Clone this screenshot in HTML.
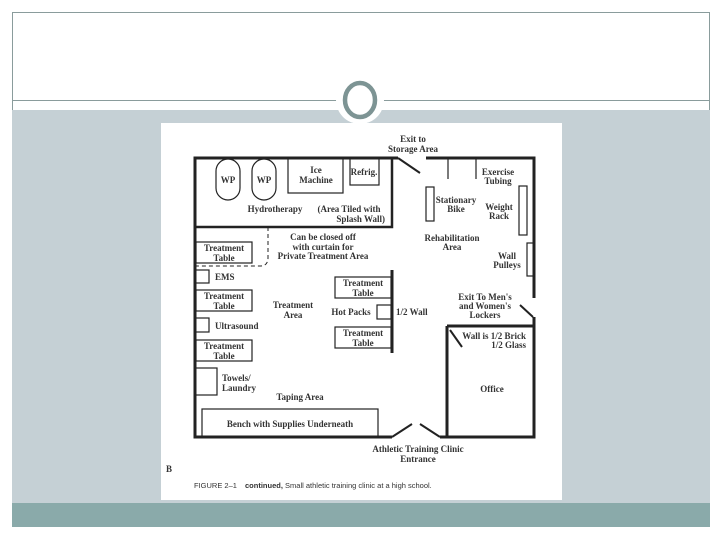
<!DOCTYPE html>
<html><head><style>
body{margin:0;width:720px;height:540px;background:#fff;position:relative;overflow:hidden}
</style></head><body>
<svg width="720" height="540" viewBox="0 0 720 540" style="position:absolute;left:0;top:0">
<rect x="0" y="0" width="720" height="540" fill="#fff"/>
<line x1="12" y1="12.5" x2="710" y2="12.5" stroke="#8a9c9c" stroke-width="1"/>
<line x1="12.5" y1="12" x2="12.5" y2="110" stroke="#8a9c9c" stroke-width="1"/>
<line x1="709.5" y1="12" x2="709.5" y2="110" stroke="#8a9c9c" stroke-width="1"/>
<rect x="12" y="110" width="698" height="393" fill="#c5d0d5"/>
<rect x="12" y="503" width="698" height="24" fill="#8aaaaa"/>
<line x1="12" y1="100.5" x2="710" y2="100.5" stroke="#8a9c9c" stroke-width="1"/>
<circle cx="360" cy="100" r="24" fill="#fff"/>
<ellipse cx="360" cy="100" rx="15" ry="17" fill="none" stroke="#7d9494" stroke-width="4.5"/>
<rect x="161" y="123" width="401" height="377" fill="#fff"/>
<g stroke="#222" fill="none">
<path d="M398 158H195V437H392M426 158H534V298M534 317V437H440M447 326H534M447 326V437" stroke-width="3"/>
<path d="M398 158L420 173M392 437L412 424M420 424L440 437M520 305L533 317M450 330L462 347" stroke-width="2"/>
<path d="M195 227H392V158" stroke-width="2.5"/>
<path d="M392 270V353" stroke-width="3"/>
<path d="M448 158V179M476 158V179" stroke-width="1.2"/>
<path d="M268 227V258Q268 266 260 266H195" stroke-width="1" stroke-dasharray="4,3"/>
<g stroke-width="1.2">
<rect x="216" y="159" width="24" height="41" rx="12"/>
<rect x="252" y="159" width="24" height="41" rx="12"/>
<rect x="288" y="158" width="55" height="35"/>
<rect x="350" y="158" width="29" height="27"/>
<rect x="196" y="242" width="56" height="21"/>
<rect x="195" y="270" width="14" height="13"/>
<rect x="196" y="290" width="56" height="21"/>
<rect x="195" y="318" width="14" height="14"/>
<rect x="196" y="340" width="56" height="21"/>
<rect x="195" y="368" width="22" height="27"/>
<rect x="202" y="409" width="176" height="28"/>
<rect x="335" y="277" width="56" height="21"/>
<rect x="377" y="305" width="14" height="14"/>
<rect x="335" y="327" width="56" height="21"/>
<rect x="426" y="187" width="8" height="34"/>
<rect x="519" y="186" width="8" height="49"/>
<rect x="527" y="243" width="7" height="33"/>
</g>
</g>
<g font-family="Liberation Serif, serif" font-weight="bold" font-size="9" fill="#333" text-anchor="middle">
<text x="413" y="142">Exit to</text><text x="413" y="152">Storage Area</text>
<text x="228" y="183">WP</text><text x="264" y="183">WP</text>
<text x="316" y="173">Ice</text><text x="316" y="183">Machine</text>
<text x="364" y="175">Refrig.</text>
<text x="275" y="212">Hydrotherapy</text>
<text x="349" y="212">(Area Tiled with</text>
<text x="385" y="222" text-anchor="end">Splash Wall)</text>
<text x="323" y="240">Can be closed off</text><text x="323" y="250">with curtain for</text><text x="323" y="259">Private Treatment Area</text>
<text x="224" y="251">Treatment</text><text x="224" y="261">Table</text>
<text x="215" y="280" text-anchor="start">EMS</text>
<text x="224" y="299">Treatment</text><text x="224" y="309">Table</text>
<text x="215" y="329" text-anchor="start">Ultrasound</text>
<text x="224" y="349">Treatment</text><text x="224" y="359">Table</text>
<text x="222" y="381" text-anchor="start">Towels/</text><text x="222" y="391" text-anchor="start">Laundry</text>
<text x="293" y="308">Treatment</text><text x="293" y="318">Area</text>
<text x="300" y="400">Taping Area</text>
<text x="290" y="427">Bench with Supplies Underneath</text>
<text x="363" y="286">Treatment</text><text x="363" y="296">Table</text>
<text x="351" y="315">Hot Packs</text>
<text x="396" y="315" text-anchor="start">1/2 Wall</text>
<text x="363" y="336">Treatment</text><text x="363" y="346">Table</text>
<text x="498" y="175">Exercise</text><text x="498" y="184">Tubing</text>
<text x="456" y="203">Stationary</text><text x="456" y="212">Bike</text>
<text x="499" y="210">Weight</text><text x="499" y="219">Rack</text>
<text x="452" y="241">Rehabilitation</text><text x="452" y="250">Area</text>
<text x="507" y="259">Wall</text><text x="507" y="268">Pulleys</text>
<text x="485" y="300">Exit To Men's</text><text x="485" y="309">and Women's</text><text x="485" y="318">Lockers</text>
<text x="526" y="339" text-anchor="end">Wall is 1/2 Brick</text><text x="526" y="348" text-anchor="end">1/2 Glass</text>
<text x="492" y="392">Office</text>
<text x="418" y="452">Athletic Training Clinic</text><text x="418" y="462">Entrance</text>
<text x="166" y="472" text-anchor="start">B</text>
</g>
<text x="194" y="488" font-family="Liberation Sans, sans-serif" font-size="7.5" fill="#333">FIGURE 2–1 <tspan dx="6" font-weight="bold">continued,</tspan> Small athletic training clinic at a high school.</text>
</svg>
</body></html>
